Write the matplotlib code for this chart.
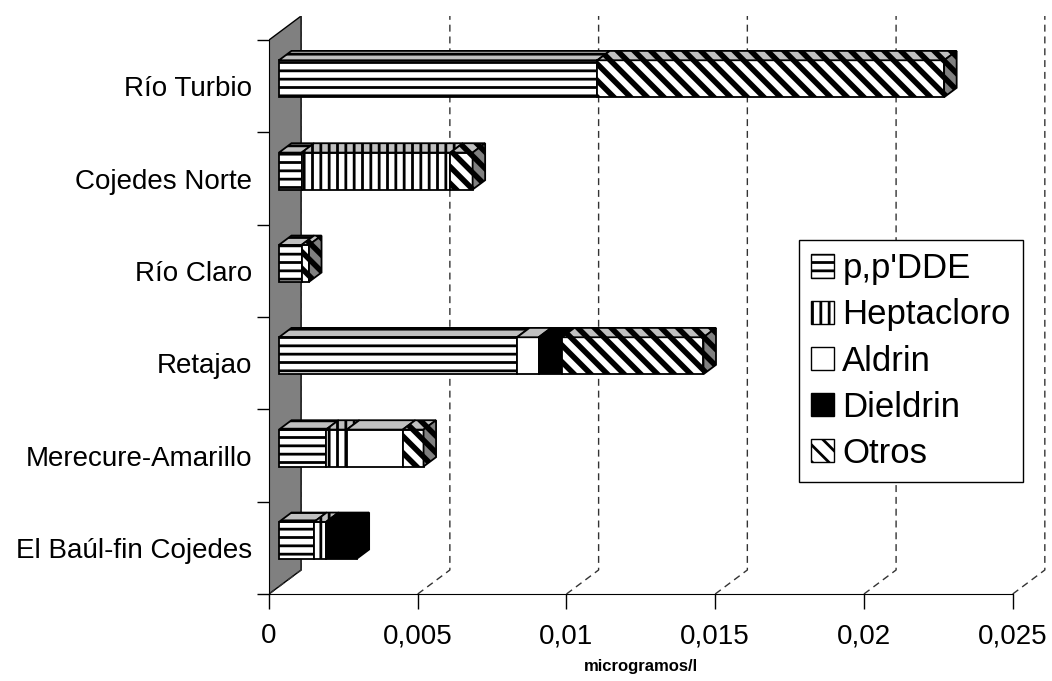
import matplotlib as mpl
import matplotlib.pyplot as plt
from matplotlib.patches import Polygon, Patch
import numpy as np

# data, bottom to top
categories = ['El Baúl-fin Cojedes', 'Merecure-Amarillo', 'Retajao',
              'Río Claro', 'Cojedes Norte', 'Río Turbio']
series = ["p,p'DDE", 'Heptacloro', 'Aldrin', 'Dieldrin', 'Otros']
dde = [0.00118, 0.00158, 0.0080, 0.00076, 0.00076, 0.0107]
heptacloro = [0.0004, 0.0007, 0.0, 0.0, 0.0050, 0.0]
aldrin = [0.0, 0.00188, 0.00073, 0.0, 0.0, 0.0]
dieldrin = [0.00103, 0.0, 0.00078, 0.0, 0.0, 0.0]
otros = [0.0, 0.0007, 0.00476, 0.00025, 0.00075, 0.01166]
xticks = [0, 0.005, 0.01, 0.015, 0.02, 0.025]
xtick_labels = ['0', '0,005', '0,01', '0,015', '0,02', '0,025']

values = [dde, heptacloro, aldrin, dieldrin, otros]
front = ['white', 'white', 'white', 'black', 'white']
topc = ['#c0c0c0', '#c0c0c0', '#c0c0c0', 'black', '#c0c0c0']
sidec = ['#808080', '#808080', '#808080', 'black', '#808080']
hatches = ['--', '||', '', '', '\\\\']
hatch_lw = [2.0, 2.0, 1.0, 1.0, 4.0]

plt.rcParams['font.family'] = ['Liberation Sans', 'DejaVu Sans']
plt.rcParams['hatch.linewidth'] = 2.0

DX, DY = 0.00108, 0.26   # depth of the 3d box in data units
F0, F1 = 0.31, 0.70      # bar depth inside the box
H = 0.2                  # half bar height

fig = plt.figure(figsize=(10.52, 6.81), dpi=100)
ax = fig.add_axes([269/1052, 1-594/681, 779.4/1052, 578/681])
ax.set_xlim(0, 0.0262)
ax.set_ylim(-0.5, len(categories) - 0.5 + DY)
ax.patch.set_visible(False)

top_y = len(categories) - 0.5
# back wall
wall = Polygon([(0, -0.5), (DX, -0.5 + DY), (DX, top_y + DY), (0, top_y)],
               facecolor='#808080', edgecolor='black', lw=1, zorder=1)
ax.add_patch(wall)

# gridlines on floor and back
for x in xticks:
    ax.plot([x, x + DX, x + DX], [-0.5, -0.5 + DY, top_y + DY],
            ls=(0, (5, 3.5)), color='#333333', lw=1, zorder=1.5)


def face(pts, fc, s):
    with mpl.rc_context({'hatch.linewidth': hatch_lw[s]}):
        p = Polygon(pts, facecolor=fc, edgecolor='black',
                    hatch=hatches[s], lw=1.3, zorder=3)
    ax.add_patch(p)


for i in range(len(categories)):
    left = 0
    last = None
    for s, vals in enumerate(values):
        v = vals[i]
        if v <= 0:
            continue
        a, b = left, left + v
        y0, y1 = i - H, i + H
        face([(a + F0*DX, y0 + F0*DY), (b + F0*DX, y0 + F0*DY),
              (b + F0*DX, y1 + F0*DY), (a + F0*DX, y1 + F0*DY)], front[s], s)
        face([(a + F0*DX, y1 + F0*DY), (b + F0*DX, y1 + F0*DY),
              (b + F1*DX, y1 + F1*DY), (a + F1*DX, y1 + F1*DY)], topc[s], s)
        left = b
        last = s
    face([(left + F0*DX, i - H + F0*DY), (left + F1*DX, i - H + F1*DY),
          (left + F1*DX, i + H + F1*DY), (left + F0*DX, i + H + F0*DY)],
         sidec[last], last)

for sp in ['top', 'right']:
    ax.spines[sp].set_visible(False)
ax.spines['bottom'].set_bounds(0, 0.025)
ax.spines['left'].set_bounds(-0.5, top_y)

ax.set_xticks(xticks, xtick_labels, fontsize=20)
ax.tick_params(axis='x', length=11, width=1, pad=10)
ax.set_yticks(np.arange(len(categories) + 1) - 0.5, [])
ax.tick_params(axis='y', which='major', length=9, width=1)
ax.set_yticks(np.arange(len(categories)), categories, minor=True, fontsize=20)
ax.tick_params(axis='y', which='minor', length=0, pad=12)

fig.text(641/1052, 1 - 667/681, 'microgramos/l', fontsize=12,
         fontweight='bold', ha='center', va='center')

handles = []
for s in range(len(series)):
    with mpl.rc_context({'hatch.linewidth': min(hatch_lw[s], 2.0)}):
        handles.append(Patch(facecolor=front[s], edgecolor='black',
                             hatch=hatches[s]))
fig.legend(handles, series, loc='upper left',
           bbox_to_anchor=(799/1052, 1 - 240/681), fontsize=25,
           frameon=True, fancybox=False, edgecolor='black', framealpha=1,
           handlelength=0.65, handleheight=0.65, handletextpad=0.25,
           labelspacing=0.38, borderpad=0.35, borderaxespad=0)

fig.savefig('out.png', dpi=100)
